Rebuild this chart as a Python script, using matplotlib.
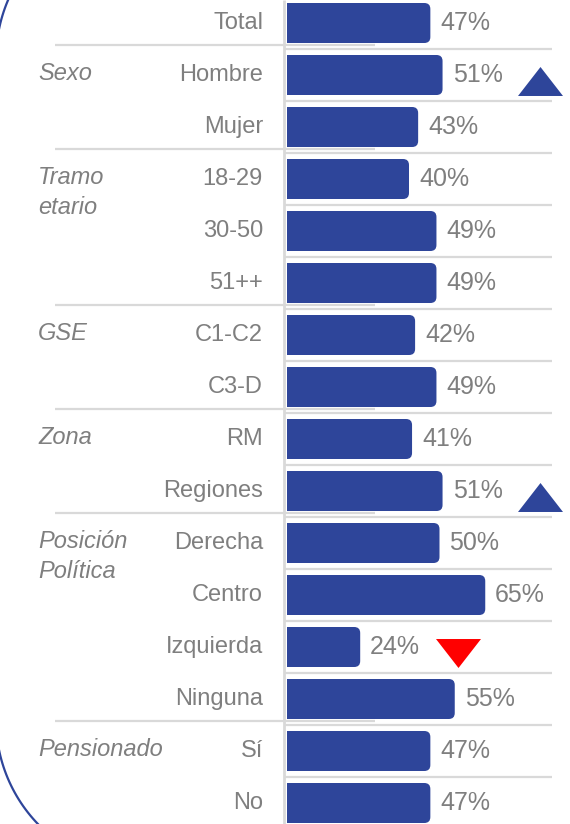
import numpy as np
import matplotlib
matplotlib.use('Agg')
import matplotlib.pyplot as plt
from matplotlib.patches import FancyBboxPatch

# ---- data ----
categories = ['Total', 'Hombre', 'Mujer', '18-29', '30-50', '51++', 'C1-C2', 'C3-D',
              'RM', 'Regiones', 'Derecha', 'Centro', 'Izquierda', 'Ninguna', 'Sí', 'No']
values = [47, 51, 43, 40, 49, 49, 42, 49, 41, 51, 50, 65, 24, 55, 47, 47]
group_names = ['Sexo', 'Tramo\netario', 'GSE', 'Zona', 'Posición\nPolítica', 'Pensionado']
group_rows = [1, 3, 6, 8, 10, 14]
group_breaks = [0, 2, 5, 7, 9, 13]   # separator drawn below these rows
trend_rows = [1, 9, 12]
trend_dirs = ['up', 'up', 'down']

# ---- style ----
BAR = '#2E459A'
GREY_TXT = '#7F7F7F'
GRID = '#D9D9D9'
plt.rcParams['font.family'] = ['Liberation Sans', 'DejaVu Sans']

W, H, DPI = 570, 824, 100
ROW_PX = 52.0
TOP_PX = 23.0          # centre of first row from top
AX_LEFT = 287.0
PX_PER_PCT = 3.05

fig = plt.figure(figsize=(W / DPI, H / DPI), dpi=DPI)

# decorative rounded frame, only its left side shows (pixel coords, y down)
deco = fig.add_axes([0, 0, 1, 1])
deco.set_xlim(0, W)
deco.set_ylim(H, 0)
deco.axis('off')
R, CX, CY_TOP, CY_BOT = 150, 146, 59, 720
t_top = np.linspace(np.pi, 1.5 * np.pi, 60)
t_bot = np.linspace(0.5 * np.pi, np.pi, 60)[::-1]
fx = np.concatenate([CX + R * np.cos(t_top[::-1]), CX + R * np.cos(t_bot)])
fy = np.concatenate([CY_TOP + R * np.sin(t_top[::-1]), CY_BOT + R * np.sin(t_bot)])
deco.plot(fx, fy, color=BAR, lw=1.6, solid_capstyle='butt')

ax = fig.add_axes([AX_LEFT / W, 0, (W - AX_LEFT) / W, 1])
n = len(categories)
xmax = (W - AX_LEFT) / PX_PER_PCT
ax.set_xlim(0, xmax)
ax.set_ylim((H - TOP_PX) / ROW_PX, -TOP_PX / ROW_PX)
ax.axis('off')

def xfrac(px):
    return (px - AX_LEFT) / (W - AX_LEFT)

ytr = ax.get_yaxis_transform()

# separators
ax.hlines(np.arange(n - 1) + 0.5, xfrac(285), xfrac(552), transform=ytr,
          color=GRID, lw=1.6, clip_on=False, zorder=1)
ax.hlines(np.array(group_breaks) + 0.5 - 4 / ROW_PX, xfrac(55), xfrac(375), transform=ytr,
          color=GRID, lw=1.6, clip_on=False, zorder=1)
ax.vlines(xfrac(284), 0, 1, transform=ax.transAxes, color=GRID, lw=2,
          clip_on=False, zorder=1)

# bars with rounded right corners
bar_h = 40 / ROW_PX
r_x = 6 / PX_PER_PCT
aspect = (6 / ROW_PX) / r_x
for i, v in enumerate(values):
    p = FancyBboxPatch((-5, i - bar_h / 2), v + 5, bar_h,
                       boxstyle=f'round,pad=0,rounding_size={r_x}',
                       mutation_aspect=aspect, fc=BAR, ec='none', zorder=2)
    ax.add_patch(p)
    ax.annotate(f'{v}%', (v, i), xytext=(7.2, 0), textcoords='offset points',
                va='center', ha='left', fontsize=18, color=GREY_TXT)
    ax.text(xfrac(263), i, categories[i], transform=ytr, ha='right', va='center',
            fontsize=17, color=GREY_TXT, clip_on=False)

# group labels
for name, row in zip(group_names, group_rows):
    for k, line in enumerate(name.split('\n')):
        ax.text(xfrac(38), row - 1 / ROW_PX + k * 29 / ROW_PX, line, transform=ytr,
                ha='left', va='center', fontsize=17, style='italic', color=GREY_TXT,
                clip_on=False)

# trend markers
up = [(-1, -0.644), (1, -0.644), (0, 0.644)]
down = [(-1, 0.644), (1, 0.644), (0, -0.644)]
for row, d in zip(trend_rows, trend_dirs):
    shape, col = (up, BAR) if d == 'up' else (down, '#FF0000')
    ax.plot(values[row] + 32, row + 6 / ROW_PX, marker=shape, ms=32.4,
            color=col, mew=0, ls='none', clip_on=False)

fig.savefig('out.png', dpi=DPI)
